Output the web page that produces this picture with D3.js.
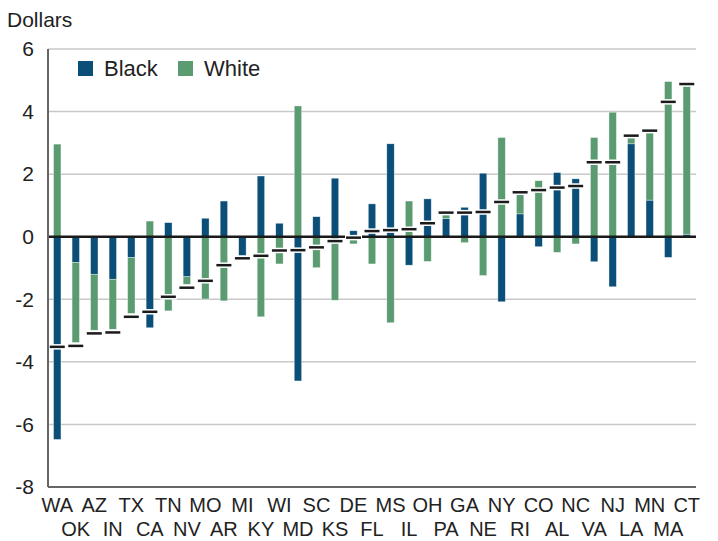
<!DOCTYPE html>
<html lang="en">
<head>
    <meta charset="UTF-8">
    <title>Black and White contributions by state</title>
    <script src="https://cdn.jsdelivr.net/npm/d3@7"></script>
    <style>
        body { margin: 0; background: #fff; }
        text { fill: #222; }
    </style>
</head>
<body>
<script>
    // states in plot order (sorted by total)
    var states = ["WA", "OK", "AZ", "IN", "TX", "CA", "TN", "NV", "MO", "AR", "MI", "KY",
        "WI", "MD", "SC", "KS", "DE", "FL", "MS", "IL", "OH", "PA", "GA", "NE", "NY",
        "RI", "CO", "AL", "NC", "VA", "NJ", "LA", "MN", "MA", "CT"];

    var black = [-6.48, -0.82, -1.20, -1.36, -0.67, -2.91, 0.45, -1.28, 0.59, 1.14, -0.61, 1.94,
        0.43, -4.61, 0.64, 1.87, 0.19, 1.05, 2.97, -0.91, 1.21, 0.58, 0.94, 2.03, -2.08,
        0.73, -0.32, 2.05, 1.85, -0.80, -1.60, 2.97, 1.17, -0.66, 0.08];

    var white = [2.96, -2.56, -1.79, -1.60, -1.78, 0.50, -2.37, -0.24, -1.99, -2.05, -0.06, -2.56,
        -0.87, 4.18, -0.99, -2.03, -0.23, -0.87, -2.75, 1.14, -0.79, 0.17, -0.19, -1.24, 3.17,
        0.62, 1.79, -0.50, -0.23, 3.17, 3.98, 0.23, 2.17, 4.96, 4.74];

    // total markers
    var total = [-3.52, -3.49, -3.09, -3.06, -2.56, -2.40, -1.92, -1.63, -1.41, -0.91, -0.69, -0.61,
        -0.44, -0.43, -0.34, -0.14, -0.03, 0.18, 0.21, 0.24, 0.43, 0.77, 0.77, 0.79, 1.11,
        1.42, 1.49, 1.57, 1.62, 2.38, 2.38, 3.23, 3.39, 4.31, 4.88];

    var yTicks = [-8, -6, -4, -2, 0, 2, 4, 6];
    var seriesNames = ["Black", "White"];
    var colors = {Black: "#0b4f78", White: "#5b9b72"};

    var width = 718, height = 541;
    var margin = {top: 49, right: 22, bottom: 54, left: 48};
    var innerW = width - margin.left - margin.right;
    var innerH = height - margin.top - margin.bottom;

    var svg = d3.select("body").append("svg")
            .attr("width", width)
            .attr("height", height)
            .style("font-family", "'Liberation Sans', Arial, sans-serif");

    var g = svg.append("g").attr("transform", "translate(" + margin.left + "," + margin.top + ")");

    var x = d3.scaleBand().domain(states).range([0, innerW]).paddingInner(0.6).paddingOuter(0.3);
    var y = d3.scaleLinear().domain([-8, 6]).range([innerH, 0]);

    var table = states.map(function (s, i) {
        return {state: s, Black: black[i], White: white[i], total: total[i]};
    });
    var stacked = d3.stack().keys(seriesNames).offset(d3.stackOffsetDiverging)(table);

    // grid lines
    g.selectAll(".grid").data(yTicks.filter(function (t) { return t !== 0 && t !== -8; }))
            .enter().append("line")
            .attr("x1", 0).attr("x2", innerW)
            .attr("y1", function (d) { return y(d); })
            .attr("y2", function (d) { return y(d); })
            .style("stroke", "#c8c8c8").style("stroke-width", 1.5);

    // bars
    g.selectAll(".series").data(stacked).enter().append("g")
            .style("fill", function (d) { return colors[d.key]; })
            .selectAll("rect").data(function (d) { return d; })
            .enter().append("rect")
            .attr("x", function (d) { return x(d.data.state); })
            .attr("width", x.bandwidth())
            .attr("y", function (d) { return y(Math.max(d[0], d[1])); })
            .attr("height", function (d) { return Math.abs(y(d[0]) - y(d[1])); })
            .style("stroke", "#fff").style("stroke-width", 0.6).style("stroke-opacity", 0.6);

    // zero line
    g.append("line").attr("x1", 0).attr("x2", innerW)
            .attr("y1", y(0)).attr("y2", y(0))
            .style("stroke", "#1a1a1a").style("stroke-width", 2.5);

    // total markers: white halo, then black dash
    var mw = 15;
    var markers = g.selectAll(".marker").data(table).enter().append("g");
    markers.append("line")
            .attr("x1", function (d) { return x(d.state) + x.bandwidth() / 2 - mw / 2 - 1; })
            .attr("x2", function (d) { return x(d.state) + x.bandwidth() / 2 + mw / 2 + 1; })
            .attr("y1", function (d) { return y(d.total); })
            .attr("y2", function (d) { return y(d.total); })
            .style("stroke", "#fff").style("stroke-width", 5.5);
    markers.append("line")
            .attr("x1", function (d) { return x(d.state) + x.bandwidth() / 2 - mw / 2; })
            .attr("x2", function (d) { return x(d.state) + x.bandwidth() / 2 + mw / 2; })
            .attr("y1", function (d) { return y(d.total); })
            .attr("y2", function (d) { return y(d.total); })
            .style("stroke", "#1a1a1a").style("stroke-width", 2.5);

    // axes lines
    g.append("line").attr("x1", 0).attr("x2", 0).attr("y1", 0).attr("y2", innerH)
            .style("stroke", "#666").style("stroke-width", 2);
    g.append("line").attr("x1", 0).attr("x2", innerW).attr("y1", innerH).attr("y2", innerH)
            .style("stroke", "#666").style("stroke-width", 2);

    // y axis labels (plain hyphen for negatives, as in the original)
    var yAxis = d3.axisLeft(y).tickValues(yTicks).tickSize(0).tickPadding(14)
            .tickFormat(function (d) { return String(d); });
    var ya = g.append("g").call(yAxis);
    ya.select(".domain").remove();
    ya.selectAll("text").style("font-size", "21px").style("fill", "#222")
            .style("font-family", "'Liberation Sans', Arial, sans-serif");

    // x axis labels, alternating rows
    var xa = g.append("g").attr("transform", "translate(0," + innerH + ")");
    xa.selectAll("text").data(states).enter().append("text")
            .attr("x", function (d) { return x(d) + x.bandwidth() / 2; })
            .attr("y", function (d, i) { return i % 2 === 0 ? 25 : 49; })
            .attr("text-anchor", "middle")
            .style("font-family", "'Liberation Sans Narrow', 'Arial Narrow', sans-serif")
            .style("font-size", "20px")
            .text(function (d) { return d; });

    // unit label
    svg.append("text").attr("x", 7).attr("y", 27)
            .style("font-size", "21px").text("Dollars");

    // legend
    var legend = svg.append("g").attr("transform", "translate(78,61)");
    var lx = [0, 100];
    seriesNames.forEach(function (s, i) {
        legend.append("rect").attr("x", lx[i]).attr("y", 0).attr("width", 15).attr("height", 15)
                .style("fill", colors[s]);
        legend.append("text").attr("x", lx[i] + 26).attr("y", 15)
                .style("font-size", "22px").text(s);
    });
</script>
</body>
</html>
